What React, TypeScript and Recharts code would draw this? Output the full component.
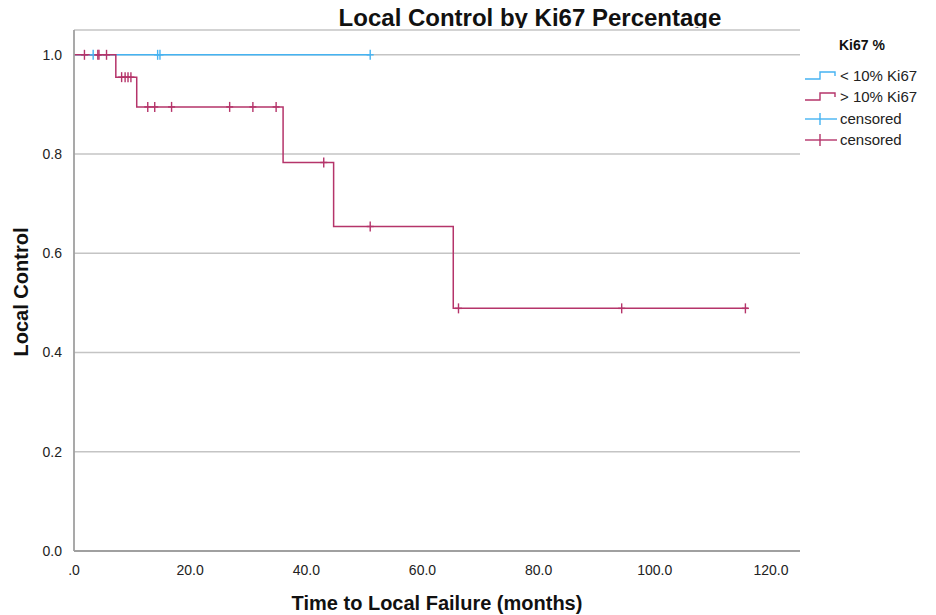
import { ComposedChart, Line, Scatter, XAxis, YAxis, CartesianGrid } from 'recharts'

// Kaplan-Meier steps, < 10% Ki67
const lowStepT = [0, 51.0]
const lowStepS = [1.0, 1.0]
const lowCensorT = [3.3, 14.4, 14.8, 51.0]
const lowCensorS = [1.0, 1.0, 1.0, 1.0]

// Kaplan-Meier steps, > 10% Ki67
const highStepT = [0, 7.2, 10.8, 36.0, 44.7, 65.3, 116.1]
const highStepS = [1.0, 0.955, 0.895, 0.783, 0.654, 0.489, 0.489]
const highCensorT = [1.8, 4.1, 4.3, 5.6, 8.2, 8.8, 9.3, 9.8, 12.7, 13.9, 16.8, 26.8, 30.8, 34.8, 43.0, 51.0, 66.2, 94.3, 115.6]
const highCensorS = [1.0, 1.0, 1.0, 1.0, 0.955, 0.955, 0.955, 0.955, 0.895, 0.895, 0.895, 0.895, 0.895, 0.895, 0.783, 0.654, 0.489, 0.489, 0.489]

const xTicks = [0, 20, 40, 60, 80, 100, 120]
const yTicks = [0, 0.2, 0.4, 0.6, 0.8, 1.0]

const BLUE = '#45b3f2'
const RED = '#b5346a'
const FONT = '"Liberation Sans", Arial, sans-serif'

const toPoints = (t: number[], s: number[]) => t.map((x, i) => ({ t: x, s: s[i] }))

const lowStep = toPoints(lowStepT, lowStepS)
const lowCensor = toPoints(lowCensorT, lowCensorS)
const highStep = toPoints(highStepT, highStepS)
const highCensor = toPoints(highCensorT, highCensorS)

const censorMark = (color: string) => (props: any) => {
  const { cx, cy } = props
  return (
    <g>
      <line x1={cx} x2={cx} y1={cy - 5} y2={cy + 5} stroke={color} strokeWidth={1.4} />
      <line x1={cx - 3.5} x2={cx + 3.5} y1={cy} y2={cy} stroke={color} strokeWidth={1.4} />
    </g>
  )
}

function LegendIcon({ kind, color }: { kind: 'step' | 'cross'; color: string }) {
  return (
    <svg width={34} height={14} style={{ display: 'block' }}>
      {kind === 'step' ? (
        <polyline points="1,10 16,10 16,3 31,3 31,7" fill="none" stroke={color} strokeWidth={1.4} />
      ) : (
        <g>
          <line x1={1} x2={33} y1={7} y2={7} stroke={color} strokeWidth={1.4} />
          <line x1={16} x2={16} y1={1} y2={13} stroke={color} strokeWidth={1.4} />
        </g>
      )}
    </svg>
  )
}

const legendItems = [
  { label: '< 10% Ki67', kind: 'step' as const, color: BLUE },
  { label: '> 10% Ki67', kind: 'step' as const, color: RED },
  { label: 'censored', kind: 'cross' as const, color: BLUE },
  { label: 'censored', kind: 'cross' as const, color: RED },
]

export default function App() {
  return (
    <div style={{ position: 'absolute', left: 0, top: 0, width: 936, height: 615, background: '#fff', fontFamily: FONT }}>
      <ComposedChart width={936} height={615} margin={{ top: 30, right: 136, bottom: 34, left: 0 }}>
        <CartesianGrid vertical={false} stroke="#c4c4c4" strokeWidth={1.5} />
        <XAxis
          type="number"
          dataKey="t"
          domain={[0, 125]}
          ticks={xTicks}
          allowDataOverflow
          tickFormatter={(v: number) => (v === 0 ? '.0' : v.toFixed(1))}
          tickLine={false}
          tickMargin={8}
          height={30}
          stroke="#a0a0a0"
          strokeWidth={1.8}
          tick={{ fill: '#222', fontSize: 14, fontFamily: FONT }}
        />
        <YAxis
          type="number"
          dataKey="s"
          domain={[0, 1.05]}
          ticks={yTicks}
          allowDataOverflow
          tickFormatter={(v: number) => v.toFixed(1)}
          tickLine={false}
          tickMargin={6}
          width={74}
          stroke="#a0a0a0"
          strokeWidth={1.8}
          tick={{ fill: '#222', fontSize: 14, fontFamily: FONT }}
        />
        <Line data={lowStep} dataKey="s" type="stepAfter" stroke={BLUE} strokeWidth={1.5} dot={false} isAnimationActive={false} />
        <Line data={highStep} dataKey="s" type="stepAfter" stroke={RED} strokeWidth={1.5} dot={false} isAnimationActive={false} />
        <Scatter data={lowCensor} dataKey="s" shape={censorMark(BLUE)} isAnimationActive={false} />
        <Scatter data={highCensor} dataKey="s" shape={censorMark(RED)} isAnimationActive={false} />
      </ComposedChart>

      {/* title is clipped at the bottom, as in the original export */}
      <div style={{ position: 'absolute', left: 0, top: 0, width: 936, height: 28, overflow: 'hidden' }}>
        <div style={{ position: 'absolute', left: 280, width: 500, top: 6, textAlign: 'center', fontSize: 24, lineHeight: '24px', fontWeight: 700, color: '#111' }}>
          Local Control by Ki67 Percentage
        </div>
      </div>

      <div style={{ position: 'absolute', left: 237, width: 400, top: 592, textAlign: 'center', fontSize: 20, lineHeight: '22px', fontWeight: 700, color: '#111' }}>
        Time to Local Failure (months)
      </div>

      <div style={{ position: 'absolute', left: 21, top: 292, width: 0, height: 0 }}>
        <div style={{ position: 'absolute', left: -100, top: -11, width: 200, textAlign: 'center', transform: 'rotate(-90deg)', fontSize: 20, lineHeight: '22px', fontWeight: 700, color: '#111' }}>
          Local Control
        </div>
      </div>

      <div style={{ position: 'absolute', left: 804, top: 36 }}>
        <div style={{ marginLeft: 35, fontSize: 14, fontWeight: 700, color: '#111', lineHeight: '18px', marginBottom: 11 }}>Ki67 %</div>
        {legendItems.map((it, i) => (
          <div key={i} style={{ display: 'flex', alignItems: 'center', height: 21.5 }}>
            <LegendIcon kind={it.kind} color={it.color} />
            <span style={{ marginLeft: 2, fontSize: 15, color: '#222', lineHeight: '18px' }}>{it.label}</span>
          </div>
        ))}
      </div>
    </div>
  )
}
